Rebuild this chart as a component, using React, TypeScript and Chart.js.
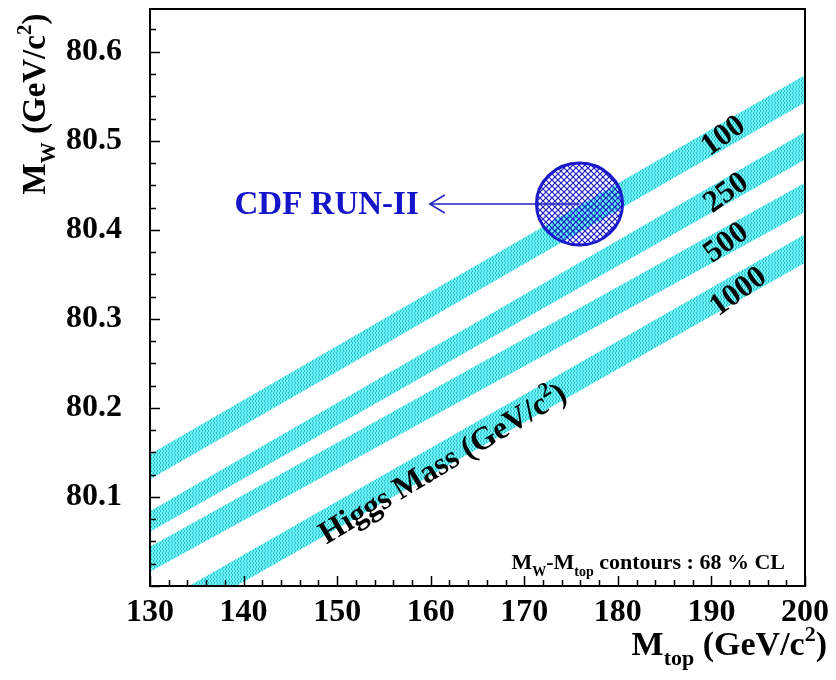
import React, { useEffect, useRef } from "react";
import { Chart, registerables } from "chart.js";

Chart.register(...registerables);

// ---- data ----
const higgsMassLabels = ["100", "250", "500", "1000"];
const mtopEnds = [130, 200];
// lower / upper edge of each Higgs-mass band at Mtop = 130 and 200
const bandLower = [
  [80.12, 80.543],
  [80.061, 80.479],
  [80.016, 80.42],
  [79.945, 80.363],
];
const bandUpper = [
  [80.148, 80.574],
  [80.084, 80.51],
  [80.044, 80.453],
  [79.975, 80.395],
];
const bandLabelMtop = [191.3, 191.6, 191.6, 192.9];
const bandLabelMw = [80.505, 80.441, 80.385, 80.33];

const xTickValues = [130, 140, 150, 160, 170, 180, 190, 200];
const yTickValues = [80.1, 80.2, 80.3, 80.4, 80.5, 80.6];

// CDF Run-II measurement (68% CL contour)
const cdfMtop = 175.9;
const cdfMw = 80.429;
const cdfErrMtop = 4.6;
const cdfErrMw = 0.046;
const arrowTipMtop = 159.9;
const higgsTitleMtop = 161.2;
const higgsTitleMw = 80.139;

const SERIF = "'Liberation Serif', 'Times New Roman', serif";

type Seg = { t: string; k?: "sub" | "sup" };

function drawRich(
  ctx: CanvasRenderingContext2D,
  segs: Seg[],
  x: number,
  y: number,
  size: number,
  align: "left" | "center" | "right"
) {
  const fontFor = (k?: string) => `bold ${k ? Math.round(size * 0.65) : size}px ${SERIF}`;
  let total = 0;
  const widths = segs.map((s) => {
    ctx.font = fontFor(s.k);
    const w = ctx.measureText(s.t).width;
    total += w;
    return w;
  });
  let cx = align === "left" ? x : align === "center" ? x - total / 2 : x - total;
  ctx.textAlign = "left";
  ctx.textBaseline = "alphabetic";
  segs.forEach((s, i) => {
    ctx.font = fontFor(s.k);
    const dy = s.k === "sub" ? size * 0.3 : s.k === "sup" ? -size * 0.42 : 0;
    ctx.fillText(s.t, cx, y + dy);
    cx += widths[i];
  });
}

function makeBandPattern(ctx: CanvasRenderingContext2D) {
  const c = document.createElement("canvas");
  c.width = 3;
  c.height = 4;
  const g = c.getContext("2d")!;
  g.fillStyle = "#6ef4f6";
  g.fillRect(0, 0, 3, 4);
  g.fillStyle = "#2cc0cc";
  g.fillRect(0, 0, 1, 2);
  g.fillRect(1, 2, 1, 2);
  return ctx.createPattern(c, "repeat")!;
}

function makeCrossPattern(ctx: CanvasRenderingContext2D) {
  const c = document.createElement("canvas");
  c.width = 6;
  c.height = 6;
  const g = c.getContext("2d")!;
  g.strokeStyle = "#1c1cc8";
  g.lineWidth = 1.2;
  g.beginPath();
  g.moveTo(-1, -1);
  g.lineTo(7, 7);
  g.moveTo(7, -1);
  g.lineTo(-1, 7);
  g.stroke();
  return ctx.createPattern(c, "repeat")!;
}

const decorPlugin = {
  id: "decor",
  beforeDraw(chart: any) {
    const ctx = chart.ctx;
    ctx.save();
    ctx.fillStyle = "#ffffff";
    ctx.fillRect(0, 0, chart.width, chart.height);
    ctx.restore();
  },
  afterDatasetsDraw(chart: any) {
    const ctx: CanvasRenderingContext2D = chart.ctx;
    const xs = chart.scales.x;
    const ys = chart.scales.y;
    const ca = chart.chartArea;

    ctx.save();
    ctx.beginPath();
    ctx.rect(ca.left, ca.top, ca.right - ca.left, ca.bottom - ca.top);
    ctx.clip();

    // CDF ellipse
    const cx = xs.getPixelForValue(cdfMtop);
    const cy = ys.getPixelForValue(cdfMw);
    const rx = Math.abs(xs.getPixelForValue(cdfMtop + cdfErrMtop) - cx);
    const ry = Math.abs(ys.getPixelForValue(cdfMw + cdfErrMw) - cy);
    ctx.beginPath();
    ctx.ellipse(cx, cy, rx, ry, 0, 0, Math.PI * 2);
    ctx.fillStyle = makeCrossPattern(ctx);
    ctx.fill();
    ctx.lineWidth = 3;
    ctx.strokeStyle = "#1a1acc";
    ctx.stroke();

    // arrow
    const tip = xs.getPixelForValue(arrowTipMtop);
    ctx.strokeStyle = "#2424c0";
    ctx.lineWidth = 1.5;
    ctx.beginPath();
    ctx.moveTo(cx, cy);
    ctx.lineTo(tip, cy);
    ctx.moveTo(tip + 15, cy - 9);
    ctx.lineTo(tip, cy);
    ctx.lineTo(tip + 15, cy + 9);
    ctx.stroke();

    ctx.fillStyle = "#1414c8";
    ctx.font = `bold 33px ${SERIF}`;
    ctx.textAlign = "right";
    ctx.textBaseline = "middle";
    ctx.fillText("CDF RUN-II", tip - 11, cy + 1);

    // band labels
    ctx.fillStyle = "#000";
    higgsMassLabels.forEach((lab, i) => {
      const px = xs.getPixelForValue(bandLabelMtop[i]);
      const py = ys.getPixelForValue(bandLabelMw[i]);
      ctx.save();
      ctx.translate(px, py);
      ctx.rotate((-36 * Math.PI) / 180);
      ctx.font = `bold 31px ${SERIF}`;
      ctx.textAlign = "center";
      ctx.textBaseline = "middle";
      ctx.fillText(lab, 0, 0);
      ctx.restore();
    });

    // Higgs mass title along the band
    ctx.save();
    ctx.translate(xs.getPixelForValue(higgsTitleMtop), ys.getPixelForValue(higgsTitleMw));
    ctx.rotate((-31 * Math.PI) / 180);
    drawRich(ctx, [{ t: "Higgs Mass (GeV/c" }, { t: "2", k: "sup" }, { t: ")" }], 0, 11, 32, "center");
    ctx.restore();

    // CL note
    drawRich(
      ctx,
      [{ t: "M" }, { t: "W", k: "sub" }, { t: "-M" }, { t: "top", k: "sub" }, { t: " contours : 68 % CL" }],
      ca.right - 20,
      ca.bottom - 17,
      22,
      "right"
    );
    ctx.restore();
  },
  afterDraw(chart: any) {
    const ctx: CanvasRenderingContext2D = chart.ctx;
    const xs = chart.scales.x;
    const ys = chart.scales.y;
    const ca = chart.chartArea;
    ctx.save();
    ctx.strokeStyle = "#000";
    ctx.lineWidth = 2;
    ctx.strokeRect(ca.left, ca.top, ca.right - ca.left, ca.bottom - ca.top);

    ctx.lineWidth = 1.5;
    ctx.beginPath();
    // y ticks (inward), minor every 0.025
    for (let k = Math.ceil(ys.min / 0.025 - 1e-6); k * 0.025 <= ys.max + 1e-9; k++) {
      const py = Math.round(ys.getPixelForValue(k * 0.025)) + 0.5;
      const len = k % 4 === 0 ? 10 : 6;
      ctx.moveTo(ca.left, py);
      ctx.lineTo(ca.left + len, py);
    }
    // x ticks (inward), minor every 2
    for (let k = Math.ceil(xs.min / 2 - 1e-6); k * 2 <= xs.max + 1e-9; k++) {
      const px = Math.round(xs.getPixelForValue(k * 2)) + 0.5;
      const len = k % 5 === 0 ? 10 : 6;
      ctx.moveTo(px, ca.bottom);
      ctx.lineTo(px, ca.bottom - len);
    }
    ctx.stroke();

    ctx.fillStyle = "#000";
    // y title
    ctx.save();
    ctx.translate(45, 104);
    ctx.rotate(-Math.PI / 2);
    drawRich(ctx, [{ t: "M" }, { t: "W", k: "sub" }, { t: " (GeV/c" }, { t: "2", k: "sup" }, { t: ")" }], 0, 0, 33, "center");
    ctx.restore();
    // x title
    drawRich(ctx, [{ t: "M" }, { t: "top", k: "sub" }, { t: " (GeV/c" }, { t: "2", k: "sup" }, { t: ")" }], 827, 655, 34, "right");
    ctx.restore();
  },
};

export default function App() {
  const ref = useRef<HTMLCanvasElement>(null);
  useEffect(() => {
    const canvas = ref.current!;
    const ctx = canvas.getContext("2d")!;
    const bandFill = makeBandPattern(ctx);
    const datasets: any[] = [];
    higgsMassLabels.forEach((lab, i) => {
      datasets.push({
        label: `mH ${lab} low`,
        data: mtopEnds.map((m, j) => ({ x: m, y: bandLower[i][j] })),
        borderWidth: 0,
        pointRadius: 0,
        fill: false,
      });
      datasets.push({
        label: `mH ${lab}`,
        data: mtopEnds.map((m, j) => ({ x: m, y: bandUpper[i][j] })),
        borderWidth: 0,
        pointRadius: 0,
        backgroundColor: bandFill,
        fill: "-1",
      });
    });
    const tickFont = { family: SERIF, size: 32, weight: "bold" as const };
    const chart = new Chart(canvas, {
      type: "line",
      data: { datasets },
      options: {
        animation: false,
        responsive: false,
        layout: { padding: { top: 9, right: 31, left: 0, bottom: 0 } },
        plugins: { legend: { display: false }, tooltip: { enabled: false } },
        scales: {
          x: {
            type: "linear",
            min: 130,
            max: 200,
            grid: { display: false },
            border: { display: false },
            afterBuildTicks: (s: any) => {
              s.ticks = xTickValues.map((v) => ({ value: v }));
            },
            afterFit: (s: any) => {
              s.height = 94;
              s.paddingLeft = 0;
              s.paddingRight = 0;
            },
            ticks: {
              autoSkip: false,
              maxRotation: 0,
              padding: 0,
              color: "#000",
              font: tickFont,
              callback: (v: any) => String(v),
            },
          },
          y: {
            type: "linear",
            min: 80.0,
            max: 80.648,
            grid: { display: false },
            border: { display: false },
            afterBuildTicks: (s: any) => {
              s.ticks = yTickValues.map((v) => ({ value: v }));
            },
            afterFit: (s: any) => {
              s.width = 150;
              s.paddingTop = 0;
              s.paddingBottom = 0;
            },
            ticks: {
              padding: 20,
              color: "#000",
              font: tickFont,
              callback: (v: any) => Number(v).toFixed(1),
            },
          },
        },
      },
      plugins: [decorPlugin],
    });
    return () => chart.destroy();
  }, []);
  return (
    <div style={{ position: "fixed", left: 0, top: 0, width: 836, height: 680, background: "#fff" }}>
      <canvas ref={ref} width={836} height={680} style={{ width: 836, height: 680, display: "block" }} />
    </div>
  );
}
